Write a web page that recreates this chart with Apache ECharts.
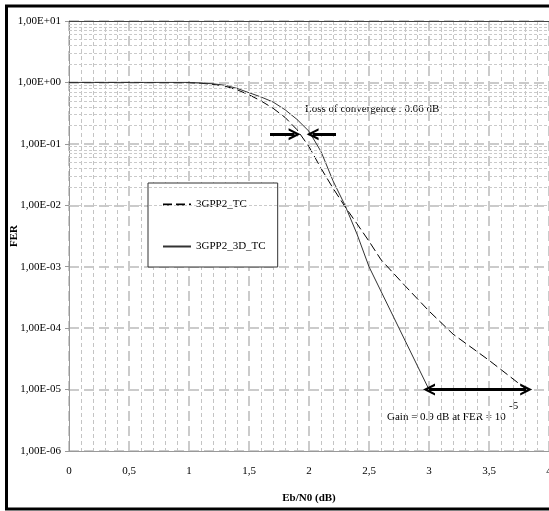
<!DOCTYPE html>
<html>
<head>
<meta charset="utf-8">
<script src="https://cdn.jsdelivr.net/npm/echarts@6/dist/echarts.min.js"></script>
<style>
  html, body { margin: 0; padding: 0; background: #fff; }
  #chart { width: 549px; height: 511px; }
</style>
</head>
<body>
<div id="chart"></div>
<script>
// Eb/N0 (dB) and FER
const ebn0TC = [0, 0.5, 1.0, 1.1, 1.2, 1.3, 1.4, 1.5, 1.6, 1.7, 1.8, 1.9, 2.0, 2.1, 2.2, 2.3, 2.4, 2.5, 2.6, 2.8, 3.0, 3.2, 3.5, 3.8];
const ferTC = [1, 1, 0.99, 0.97, 0.93, 0.87, 0.76, 0.63, 0.5, 0.38, 0.27, 0.17, 0.09, 0.04, 0.019, 0.0095, 0.005, 0.0026, 0.0013, 0.00049, 0.00019, 0.00008, 0.00003, 0.0000105];

const ebn03D = [0, 0.5, 1.0, 1.1, 1.2, 1.3, 1.4, 1.5, 1.6, 1.7, 1.8, 1.9, 2.0, 2.1, 2.2, 2.3, 2.4, 2.5, 3.0];
const fer3D = [1, 1, 1, 0.98, 0.95, 0.9, 0.8, 0.68, 0.58, 0.48, 0.36, 0.25, 0.16, 0.075, 0.025, 0.01, 0.0034, 0.001, 0.00001];

const seriesNames = ["3GPP2_TC", "3GPP2_3D_TC"];

// annotation anchors (data space)
const convFer = 0.1435;
const convRight = [1.675, 1.88];
const convLeft = [2.225, 2.03];
const gainFer = 0.00001;
const gainRange = [3.0, 3.81];

const serif = "Liberation Serif";
const chevron = "path://M0,10 L5,0 L10,10 L8,10 L5,4 L2,10 Z";

// minor grid lines at 2..9 of each decade
const minorLines = [];
for (let e = -6; e < 1; e++) {
  for (let m = 2; m <= 9; m++) minorLines.push({ yAxis: m * Math.pow(10, e) });
}

function sci(v) {
  const e = Math.round(Math.log10(v));
  const a = Math.abs(e);
  return "1,00E" + (e >= 0 ? "+" : "-") + (a < 10 ? "0" + a : a);
}

const pairs = (xs, ys) => xs.map((x, i) => [x, ys[i]]);

const chart = echarts.init(document.getElementById("chart"));

const option = {
  animation: false,
  backgroundColor: "#fff",
  grid: { left: 69, top: 21, right: 0, bottom: 60, containLabel: false, outerBoundsMode: "none" },
  legend: {
    data: seriesNames,
    orient: "vertical",
    left: 148,
    top: 183,
    padding: [16, 12, 15, 14],
    itemGap: 31,
    itemWidth: 28,
    itemHeight: 12,
    backgroundColor: "#fff",
    borderColor: "#333",
    borderWidth: 1,
    itemStyle: { opacity: 0, borderWidth: 0 },
    textStyle: { fontFamily: serif, fontSize: 11, color: "#000" }
  },
  xAxis: {
    type: "value",
    min: 0,
    max: 4,
    interval: 0.5,
    name: "Eb/N0 (dB)",
    nameLocation: "middle",
    nameGap: 42,
    nameMoveOverlap: false,
    nameTextStyle: { fontFamily: serif, fontSize: 11, fontWeight: "bold", color: "#000" },
    axisLine: { lineStyle: { color: "#999", width: 1 } },
    axisTick: { show: false },
    axisLabel: {
      margin: 15,
      fontFamily: serif,
      fontSize: 11,
      color: "#000",
      formatter: v => String(v).replace(".", ",")
    },
    splitLine: { show: true, lineStyle: { color: "#cbcbcb", width: 2, type: [10, 5] } },
    minorTick: { show: false, splitNumber: 5 },
    minorSplitLine: { show: true, lineStyle: { color: "#c4c4c4", width: 1, type: [4, 3] } }
  },
  yAxis: {
    type: "log",
    logBase: 10,
    min: 1e-6,
    max: 10,
    name: "FER",
    nameLocation: "middle",
    nameGap: 49,
    nameRotate: 90,
    nameMoveOverlap: false,
    nameTextStyle: { fontFamily: serif, fontSize: 11, fontWeight: "bold", color: "#000" },
    axisLine: { show: true, lineStyle: { color: "#999", width: 1 } },
    axisTick: { show: true, length: 4, lineStyle: { color: "#999" } },
    axisLabel: { margin: 8, fontFamily: serif, fontSize: 11, color: "#000", formatter: sci },
    splitLine: { show: true, lineStyle: { color: "#cbcbcb", width: 2, type: [10, 5] } }
  },
  series: [
    {
      name: "grid",
      type: "line",
      data: [],
      silent: true,
      z: 1,
      markLine: {
        silent: true,
        symbol: "none",
        label: { show: false },
        lineStyle: { color: "#cacaca", width: 1, type: [3, 2] },
        data: minorLines.concat([{ yAxis: 10, lineStyle: { color: "#444", width: 1, type: "solid" } }])
      }
    },
    {
      name: seriesNames[0],
      type: "line",
      data: pairs(ebn0TC, ferTC),
      symbol: "none",
      z: 3,
      lineStyle: { color: "#000", width: 1, type: [9, 4] },
      itemStyle: { color: "#000" }
    },
    {
      name: seriesNames[1],
      type: "line",
      data: pairs(ebn03D, fer3D),
      symbol: "none",
      z: 3,
      lineStyle: { color: "#333", width: 1, type: "solid" },
      itemStyle: { color: "#333" }
    },
    {
      name: "arrows",
      type: "line",
      data: [],
      silent: true,
      z: 4,
      markLine: {
        silent: true,
        symbol: "none",
        symbolSize: 12,
        label: { show: false },
        lineStyle: { color: "#000", width: 3, type: "solid" },
        data: [
          [{ coord: [convRight[0], convFer], symbol: "none" }, { coord: [convRight[1], convFer], symbol: chevron }],
          [{ coord: [convLeft[0], convFer], symbol: "none" }, { coord: [convLeft[1], convFer], symbol: chevron }],
          [{ coord: [gainRange[0], gainFer], symbol: chevron }, { coord: [gainRange[1], gainFer], symbol: chevron }]
        ]
      }
    }
  ],
  graphic: [
    {
      type: "text",
      left: 305,
      top: 104,
      style: { text: "Loss of convergence : 0.06 dB", font: "11px 'Liberation Serif'", fill: "#000" }
    },
    {
      type: "text",
      left: 387,
      top: 412,
      style: { text: "Gain = 0.9 dB at FER = 10", font: "11px 'Liberation Serif'", fill: "#000" }
    },
    {
      type: "text",
      left: 509,
      top: 401,
      style: { text: "-5", font: "11px 'Liberation Serif'", fill: "#000" }
    },
    {
      type: "rect",
      z: 100,
      shape: { x: 6.5, y: 6, width: 600, height: 503 },
      style: { fill: "none", stroke: "#000", lineWidth: 3 }
    }
  ]
};

chart.setOption(option);
</script>
</body>
</html>
